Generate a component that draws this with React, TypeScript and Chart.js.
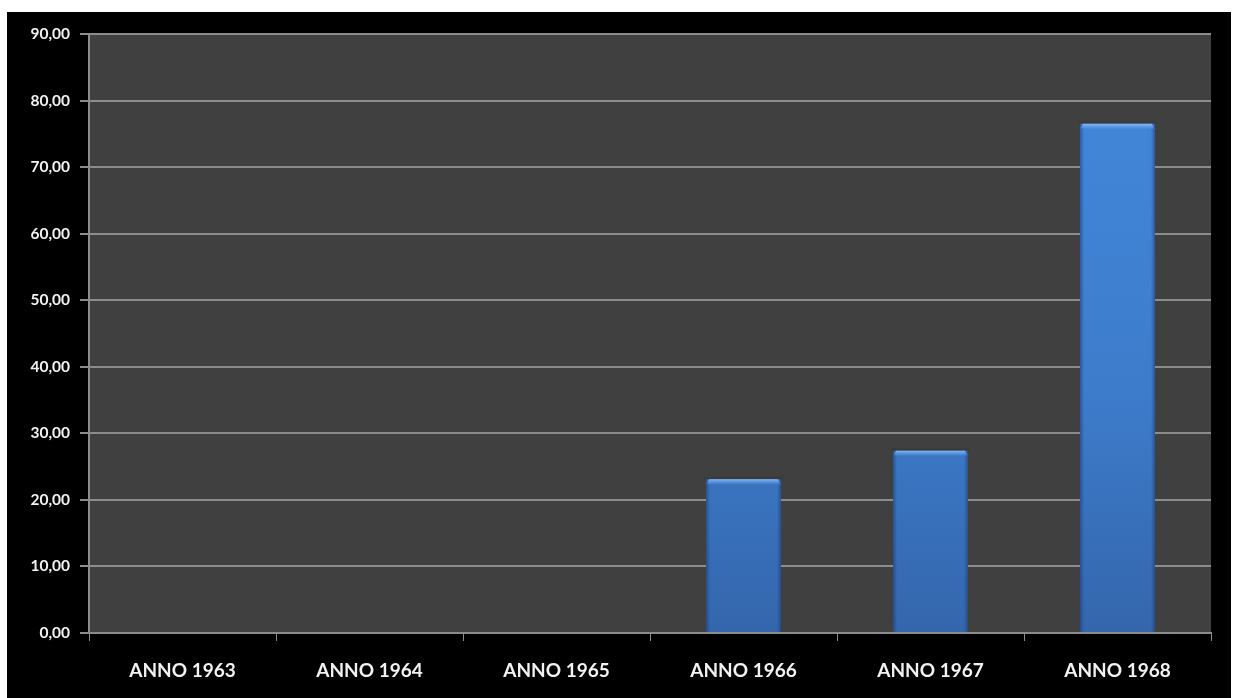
import React, { useEffect, useRef } from "react";
import { Chart, registerables } from "chart.js";

Chart.register(...registerables);

const categories = ["ANNO 1963", "ANNO 1964", "ANNO 1965", "ANNO 1966", "ANNO 1967", "ANNO 1968"];
const values = [0, 0, 0, 23.1, 27.4, 76.5];
const yMin = 0;
const yMax = 90;
const yStep = 10;

const GRID = "#8c8c8c";
const PLOT_BG = "#404040";
const LABEL = "#f2f2f2";

// Fills the plotting area with the dark grey panel
const plotBackground = {
  id: "plotBackground",
  beforeDraw(chart: any) {
    const { ctx, chartArea } = chart;
    ctx.save();
    ctx.fillStyle = PLOT_BG;
    ctx.fillRect(chartArea.left, chartArea.top, chartArea.right - chartArea.left, chartArea.bottom - chartArea.top);
    ctx.restore();
  },
};

// Adds the bevelled look to each column: darker sides and a light top rim
const bevelBars = {
  id: "bevelBars",
  afterDatasetsDraw(chart: any) {
    const { ctx } = chart;
    const meta = chart.getDatasetMeta(0);
    meta.data.forEach((bar: any) => {
      const { x, y, base, width } = bar.getProps(["x", "y", "base", "width"], true);
      const h = base - y;
      if (h <= 1) return;
      const left = x - width / 2;
      const right = x + width / 2;
      ctx.save();
      // faint shadow just above the top
      ctx.fillStyle = "rgba(0,0,0,0.08)";
      ctx.fillRect(left - 2, y - 3, width + 4, 3);
      // side shading
      const side = 4;
      const gl = ctx.createLinearGradient(left, 0, left + side, 0);
      gl.addColorStop(0, "rgba(20,50,110,0.5)");
      gl.addColorStop(1, "rgba(20,50,110,0)");
      ctx.fillStyle = gl;
      ctx.fillRect(left, y, side, h);
      const gr = ctx.createLinearGradient(right - side, 0, right, 0);
      gr.addColorStop(0, "rgba(20,50,110,0)");
      gr.addColorStop(1, "rgba(20,50,110,0.5)");
      ctx.fillStyle = gr;
      ctx.fillRect(right - side, y, side, h);
      // top rim
      const rim = 5;
      const gt = ctx.createLinearGradient(0, y, 0, y + rim);
      gt.addColorStop(0, "rgba(140,190,250,0.95)");
      gt.addColorStop(1, "rgba(100,160,235,0.2)");
      ctx.fillStyle = gt;
      ctx.beginPath();
      ctx.moveTo(left, y + rim);
      ctx.lineTo(left + 3, y);
      ctx.lineTo(right - 3, y);
      ctx.lineTo(right, y + rim);
      ctx.closePath();
      ctx.fill();
      ctx.restore();
    });
  },
};

function barFill(context: any) {
  const chart = context.chart;
  const area = chart.chartArea;
  if (!area) return "#3f80d2";
  const g = chart.ctx.createLinearGradient(0, area.top, 0, area.bottom);
  g.addColorStop(0, "#4389dc");
  g.addColorStop(0.6, "#3d7ccb");
  g.addColorStop(1, "#3466ac");
  return g;
}

export default function App() {
  const ref = useRef<HTMLCanvasElement | null>(null);

  useEffect(() => {
    if (!ref.current) return;
    const chart = new Chart(ref.current, {
      type: "bar",
      data: {
        labels: categories,
        datasets: [
          {
            data: values,
            backgroundColor: barFill,
            borderWidth: 0,
            barPercentage: 0.4,
            categoryPercentage: 1,
          },
        ],
      },
      options: {
        animation: false,
        responsive: true,
        maintainAspectRatio: false,
        layout: { padding: { top: 22, right: 20, bottom: 0, left: 0 } },
        plugins: {
          legend: { display: false },
          tooltip: { enabled: false },
        },
        scales: {
          x: {
            grid: {
              display: true,
              drawOnChartArea: false,
              drawTicks: true,
              tickLength: 8,
              color: GRID,
              offset: true,
            },
            border: { display: true, color: GRID, width: 2 },
            ticks: {
              color: LABEL,
              padding: 18,
              font: { family: "Lato", weight: "bold", size: 19 },
            },
            afterFit(scale: any) {
              scale.height = 65;
            },
          },
          y: {
            min: yMin,
            max: yMax,
            grid: {
              color: GRID,
              lineWidth: 2,
              tickLength: 9,
            },
            border: { display: true, color: GRID, width: 2 },
            ticks: {
              stepSize: yStep,
              color: LABEL,
              padding: 10,
              font: { family: "Lato", weight: "bold", size: 15.5 },
              callback: (v: any) => Number(v).toFixed(2).replace(".", ","),
            },
            afterFit(scale: any) {
              scale.width = 82;
            },
          },
        },
      },
      plugins: [plotBackground, bevelBars],
    });
    return () => chart.destroy();
  }, []);

  return (
    <div
      style={{
        position: "absolute",
        left: 7,
        top: 12,
        width: 1224,
        height: 686,
        background: "#000000",
      }}
    >
      <canvas ref={ref} />
    </div>
  );
}
